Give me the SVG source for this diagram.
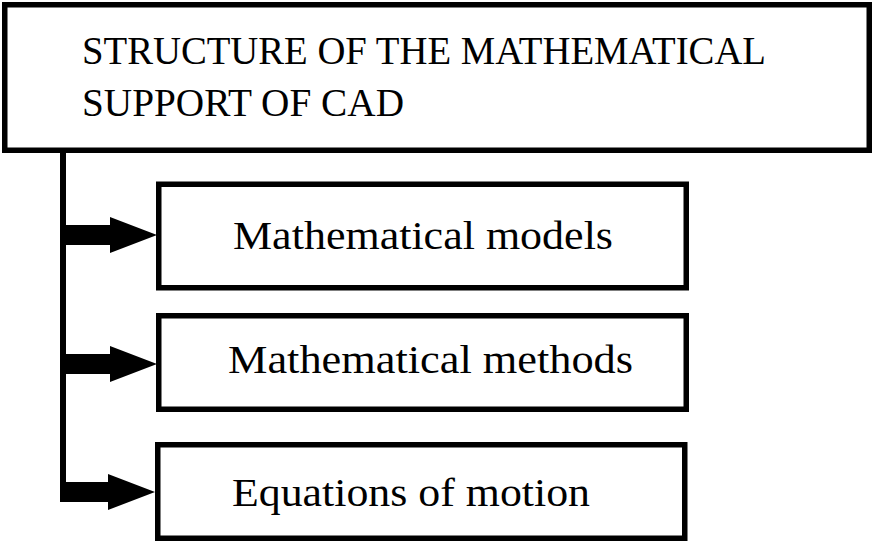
<svg xmlns="http://www.w3.org/2000/svg" width="872" height="544" viewBox="0 0 872 544">
<style>
.box{fill:#fff;stroke:#000;stroke-width:5.5}
.t{font-family:"Liberation Serif","DejaVu Serif",serif;font-size:40px;fill:#000}
.arr{fill:#000}
</style>
<rect width="872" height="544" fill="#fff"/>
<g id="connectors">
<rect x="60" y="150" width="6" height="352" fill="#000"/>
<path class="arr" d="M60,225 H110 V217 L157,235 L110,253 V245 H60 Z"/>
<path class="arr" d="M60,354 H110 V346 L157,364 L110,382 V374 H60 Z"/>
<path class="arr" d="M60,482 H108 V474 L155,492 L108,510 V502 H60 Z"/>
</g>
<g id="root">
<rect class="box" x="4.75" y="4.75" width="864.5" height="145.5"/>
<text class="t" x="82" y="64" textLength="684" lengthAdjust="spacingAndGlyphs">STRUCTURE OF THE MATHEMATICAL</text>
<text class="t" x="82" y="116" textLength="322" lengthAdjust="spacingAndGlyphs">SUPPORT OF CAD</text>
</g>
<g id="models">
<rect class="box" x="158.75" y="184.25" width="527.5" height="103.5"/>
<text class="t" x="233" y="249" textLength="380" lengthAdjust="spacingAndGlyphs">Mathematical models</text>
</g>
<g id="methods">
<rect class="box" x="158.75" y="315.75" width="527.5" height="93.5"/>
<text class="t" x="228" y="373" textLength="405" lengthAdjust="spacingAndGlyphs">Mathematical methods</text>
</g>
<g id="equations">
<rect class="box" x="157.75" y="444.75" width="527" height="93.5"/>
<text class="t" x="232" y="506" textLength="358" lengthAdjust="spacingAndGlyphs">Equations of motion</text>
</g>
</svg>
